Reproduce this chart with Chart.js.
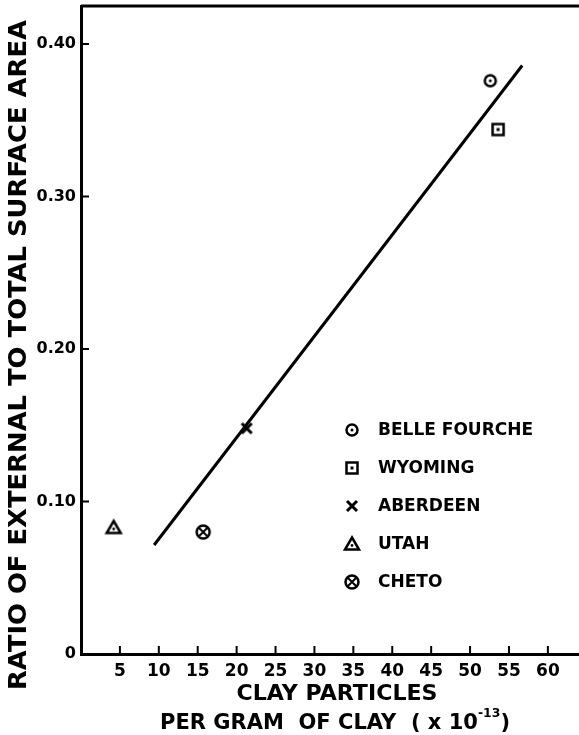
<!DOCTYPE html>
<html>
<head>
<meta charset="utf-8">
<script src="https://cdn.jsdelivr.net/npm/chart.js@4"></script>
<style>
  body { margin: 0; background: #fff; }
  canvas { display: block; }
</style>
</head>
<body>
<canvas id="chart-area" width="579" height="735"></canvas>
<script>
// data
var clays = ['BELLE FOURCHE', 'WYOMING', 'ABERDEEN', 'UTAH', 'CHETO'];
var particles = [52.6, 53.6, 21.3, 4.2, 15.7];      // x 10^-13 per gram
var ratios = [0.376, 0.344, 0.148, 0.083, 0.080];
var markers = ['circleDot', 'squareDot', 'cross', 'triangleDot', 'circleX'];
var fitX = [9.4, 56.7];
var fitY = [0.0715, 0.386];
var xTicks = [5, 10, 15, 20, 25, 30, 35, 40, 45, 50, 55, 60];
var yTicks = [0, 0.10, 0.20, 0.30, 0.40];
var yTickLabels = ['0', '0.10', '0.20', '0.30', '0.40'];

var FONT = '"DejaVu Sans", sans-serif';

function makeMarker(kind) {
    var s = 20, m = s / 2;
    var c = document.createElement('canvas');
    c.width = c.height = s;
    var g = c.getContext('2d');
    g.strokeStyle = '#000';
    g.fillStyle = '#000';
    g.lineWidth = 2.5;
    if (kind == 'circleDot') {
        g.beginPath(); g.arc(m, m, 5.5, 0, Math.PI * 2); g.stroke();
        g.beginPath(); g.arc(m, m, 1.5, 0, Math.PI * 2); g.fill();
    } else if (kind == 'squareDot') {
        g.strokeRect(m - 5.5, m - 5.5, 11, 11);
        g.fillRect(m - 1.5, m - 1.5, 3, 3);
    } else if (kind == 'cross') {
        g.lineWidth = 3;
        g.beginPath();
        g.moveTo(m - 5, m - 5); g.lineTo(m + 5, m + 5);
        g.moveTo(m + 5, m - 5); g.lineTo(m - 5, m + 5);
        g.stroke();
    } else if (kind == 'triangleDot') {
        g.lineJoin = 'miter';
        g.beginPath();
        g.moveTo(m, m - 6.5); g.lineTo(m + 7, m + 5.5); g.lineTo(m - 7, m + 5.5);
        g.closePath(); g.stroke();
        g.beginPath(); g.arc(m, m + 1.5, 1.4, 0, Math.PI * 2); g.fill();
    } else if (kind == 'circleX') {
        g.beginPath(); g.arc(m, m, 6.5, 0, Math.PI * 2); g.stroke();
        g.lineWidth = 2;
        g.beginPath();
        g.moveTo(m - 4, m - 4); g.lineTo(m + 4, m + 4);
        g.moveTo(m + 4, m - 4); g.lineTo(m - 4, m + 4);
        g.stroke();
    }
    return c;
}

var markerImgs = markers.map(makeMarker);

var datasets = clays.map(function (name, i) {
    return {
        label: name,
        data: [{ x: particles[i], y: ratios[i] }],
        pointStyle: markerImgs[i],
        pointRadius: 7
    };
});
datasets.unshift({
    label: 'fit',
    type: 'line',
    data: fitX.map(function (x, i) { return { x: x, y: fitY[i] }; }),
    borderColor: '#000',
    borderWidth: 3,
    pointRadius: 0,
    showLine: true
});

var paperPlugin = {
    id: 'paper',
    afterDraw: function (chart) {
        var ctx = chart.ctx, a = chart.chartArea;
        var xs = chart.scales.x, ys = chart.scales.y;
        ctx.save();
        ctx.strokeStyle = '#000';
        ctx.fillStyle = '#000';
        // top frame line
        ctx.lineWidth = 3;
        ctx.beginPath(); ctx.moveTo(a.left, a.top); ctx.lineTo(a.right, a.top); ctx.stroke();
        // inward ticks
        ctx.lineWidth = 2;
        ctx.beginPath();
        xTicks.forEach(function (v) {
            var px = xs.getPixelForValue(v);
            ctx.moveTo(px, a.bottom); ctx.lineTo(px, a.bottom - 8);
        });
        yTicks.slice(1).forEach(function (v) {
            var py = ys.getPixelForValue(v);
            ctx.moveTo(a.left, py); ctx.lineTo(a.left + 8, py);
        });
        ctx.stroke();

        // legend
        ctx.font = 'bold 17px ' + FONT;
        ctx.textBaseline = 'middle';
        ctx.textAlign = 'left';
        clays.forEach(function (name, i) {
            var ly = 430 + i * 38;
            ctx.drawImage(markerImgs[i], 352 - 10, ly - 10);
            ctx.fillText(name, 378, ly + 1);
        });

        // axis titles, stretched to the lengths in the figure
        function fitText(txt, cx, cy, w, size, rot) {
            ctx.save();
            ctx.translate(cx, cy);
            if (rot) ctx.rotate(rot);
            ctx.font = 'bold ' + size + 'px ' + FONT;
            var mw = ctx.measureText(txt).width;
            ctx.scale(w / mw, 1);
            ctx.textAlign = 'center';
            ctx.fillText(txt, 0, 0);
            ctx.restore();
        }
        fitText('RATIO OF EXTERNAL TO TOTAL SURFACE AREA', 20, 355, 670, 24, -Math.PI / 2);
        fitText('CLAY PARTICLES', 337, 694, 201, 22, 0);

        // second line with superscript
        ctx.font = 'bold 22px ' + FONT;
        var p1 = 'PER GRAM  OF CLAY  ( x 10', p3 = ')';
        var w1 = ctx.measureText(p1).width, w3 = ctx.measureText(p3).width;
        ctx.font = 'bold 13px ' + FONT;
        var p2 = '-13', w2 = ctx.measureText(p2).width;
        var total = w1 + w2 + w3, target = 350;
        ctx.save();
        ctx.translate(160, 723);
        ctx.scale(target / total, 1);
        ctx.textAlign = 'left';
        ctx.font = 'bold 22px ' + FONT;
        ctx.fillText(p1, 0, 0);
        ctx.fillText(p3, w1 + w2, 0);
        ctx.font = 'bold 13px ' + FONT;
        ctx.fillText(p2, w1, -9);
        ctx.restore();
        ctx.restore();
    }
};

var config = {
    type: 'scatter',
    data: { datasets: datasets },
    options: {
        responsive: false,
        animation: false,
        devicePixelRatio: 1,
        layout: { autoPadding: false, padding: { top: 6, right: 0, left: 0, bottom: 0 } },
        plugins: { legend: { display: false }, tooltip: { enabled: false } },
        scales: {
            x: {
                type: 'linear',
                min: 0,
                max: 64,
                afterBuildTicks: function (s) { s.ticks = xTicks.map(function (v) { return { value: v }; }); },
                afterFit: function (s) { s.height = 81; s.paddingLeft = 0; s.paddingRight = 0; },
                grid: { display: true, drawOnChartArea: false, drawTicks: false },
                border: { color: '#000', width: 3 },
                ticks: { color: '#000', padding: 7, maxRotation: 0, autoSkip: false,
                    font: { family: FONT, size: 17, weight: 'bold' } }
            },
            y: {
                type: 'linear',
                min: 0,
                max: 0.425,
                afterBuildTicks: function (s) { s.ticks = yTicks.map(function (v) { return { value: v }; }); },
                afterFit: function (s) { s.width = 81; s.paddingTop = 0; s.paddingBottom = 0; },
                grid: { display: true, drawOnChartArea: false, drawTicks: false },
                border: { color: '#000', width: 3 },
                ticks: { color: '#000', padding: 5, autoSkip: false,
                    callback: function (v) { return yTickLabels[yTicks.indexOf(v)]; },
                    font: { family: FONT, size: 16, weight: 'bold' } }
            }
        }
    },
    plugins: [paperPlugin]
};

window.onload = function () {
    var ctx = document.getElementById('chart-area').getContext('2d');
    window.myScatter = new Chart(ctx, config);
};
</script>
</body>
</html>
